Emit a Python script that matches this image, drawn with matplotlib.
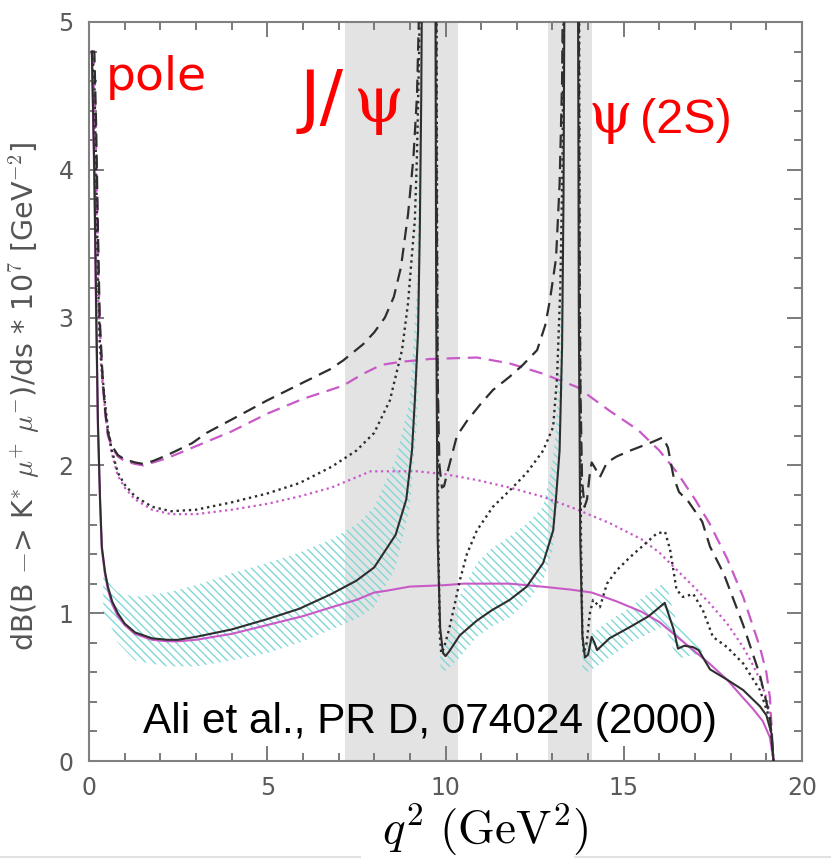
import matplotlib
matplotlib.use("Agg")
import matplotlib.pyplot as plt
from matplotlib.ticker import MultipleLocator
from matplotlib.lines import Line2D
import numpy as np

plt.rcParams['mathtext.fontset'] = 'cm'
plt.rcParams['hatch.linewidth'] = 1.0

# ---------------- data ----------------
# black solid : SM with resonances
bs_x = [0.08, 0.15, 0.2, 0.25, 0.31, 0.36, 0.45, 0.53, 0.65, 0.81, 1.0, 1.29, 1.77, 2.2, 2.5, 3.0, 4.0, 5.0, 5.9, 6.8, 7.5, 8.0, 8.6, 8.9, 9.06, 9.14, 9.23, 9.28, 9.32, 9.36,
        9.70, 9.72, 9.74, 9.78, 9.85, 9.93, 10.0, 10.1, 10.4, 10.88, 11.3, 11.8, 12.28, 12.74, 13.02, 13.1, 13.2, 13.27, 13.31, 13.35,
        13.70, 13.72, 13.74, 13.78, 13.84, 13.91, 14.0, 14.1, 14.18, 14.25, 14.6, 15.2, 15.7, 16.1, 16.15, 16.4, 16.52, 16.7, 16.95, 17.1, 17.42, 17.9, 18.35, 18.82, 19.0, 19.15, 19.2]
bs_y = [4.8, 4.0, 3.1, 2.3, 1.77, 1.45, 1.28, 1.18, 1.08, 1.0, 0.93, 0.87, 0.83, 0.82, 0.82, 0.84, 0.89, 0.96, 1.03, 1.13, 1.22, 1.31, 1.53, 1.77, 2.1, 2.44, 2.9, 3.6, 4.5, 6.0,
        6.0, 5.0, 3.0, 1.5, 0.9, 0.73, 0.71, 0.74, 0.85, 0.95, 1.02, 1.09, 1.18, 1.34, 1.56, 1.78, 2.1, 2.8, 3.8, 6.0,
        6.0, 5.0, 3.0, 1.5, 0.85, 0.70, 0.72, 0.84, 0.80, 0.75, 0.83, 0.91, 0.98, 1.06, 1.07, 0.89, 0.76, 0.78, 0.77, 0.75, 0.62, 0.55, 0.48, 0.37, 0.31, 0.18, 0.0]

# magenta solid : SM non-resonant
ms_x = [0.08, 0.15, 0.2, 0.25, 0.31, 0.36, 0.45, 0.53, 0.65, 0.81, 1.0, 1.29, 1.77, 2.2, 2.5, 3.0, 4.0, 5.0, 6.0, 6.8, 7.5, 8.0, 8.3, 9.0, 10.0, 10.5, 11.0, 11.8, 12.7, 13.5, 14.1, 14.8, 15.5, 16.0, 16.5, 17.0, 17.4, 17.9, 18.3, 18.6, 18.9, 19.1, 19.2]
ms_y = [4.8, 3.9, 3.0, 2.25, 1.75, 1.43, 1.26, 1.16, 1.06, 0.98, 0.92, 0.86, 0.82, 0.81, 0.81, 0.82, 0.86, 0.92, 0.98, 1.04, 1.09, 1.14, 1.15, 1.18, 1.19, 1.20, 1.20, 1.20, 1.18, 1.16, 1.14, 1.08, 1.01, 0.94, 0.84, 0.74, 0.66, 0.55, 0.44, 0.36, 0.27, 0.16, 0.0]

# black dotted : with resonances
bd_x = [0.08, 0.15, 0.2, 0.25, 0.3, 0.38, 0.45, 0.53, 0.64, 0.81, 1.0, 1.29, 1.77, 2.3, 3.0, 4.0, 5.0, 5.9, 6.8, 7.5, 8.0, 8.44, 8.78, 8.95, 9.05, 9.14, 9.2, 9.26, 9.32,
        9.72, 9.75, 9.77, 9.8, 9.84, 9.88, 9.95, 10.1, 10.25, 10.4, 10.6, 10.88, 11.33, 11.8, 12.28, 12.74, 13.02, 13.13, 13.22, 13.28, 13.34,
        13.72, 13.75, 13.77, 13.8, 13.84, 13.88, 13.96, 14.05, 14.14, 14.33, 14.53, 14.8, 15.18, 15.6, 15.93, 16.16, 16.3, 16.48, 16.66, 16.95, 17.22, 17.5, 17.9, 18.35, 18.82, 19.1, 19.2]
bd_y = [4.8, 4.6, 4.0, 3.3, 2.85, 2.6, 2.42, 2.25, 2.10, 1.95, 1.87, 1.79, 1.72, 1.69, 1.70, 1.75, 1.81, 1.88, 1.99, 2.10, 2.22, 2.44, 2.78, 3.1, 3.4, 3.66, 4.1, 4.8, 6.0,
        6.0, 5.0, 3.0, 1.5, 0.85, 0.73, 0.76, 0.89, 1.05, 1.22, 1.40, 1.56, 1.72, 1.83, 1.95, 2.10, 2.26, 2.6, 3.2, 4.0, 6.0,
        6.0, 5.0, 3.0, 1.5, 0.85, 0.73, 0.80, 1.0, 1.09, 1.04, 1.20, 1.29, 1.38, 1.47, 1.54, 1.55, 1.43, 1.16, 1.11, 1.13, 1.02, 0.84, 0.77, 0.66, 0.48, 0.28, 0.0]

# magenta dotted : non-resonant
md_x = [0.08, 0.15, 0.2, 0.25, 0.3, 0.38, 0.45, 0.53, 0.64, 0.81, 1.0, 1.29, 1.77, 2.3, 3.0, 4.0, 5.0, 5.9, 6.8, 7.5, 7.9, 8.5, 9.2, 10.0, 10.9, 11.8, 12.7, 13.6, 14.6, 15.5, 16.0, 16.5, 17.0, 17.4, 17.9, 18.35, 18.6, 18.82, 19.0, 19.1, 19.2]
md_y = [4.8, 4.5, 3.8, 3.2, 2.8, 2.55, 2.38, 2.22, 2.08, 1.93, 1.85, 1.77, 1.70, 1.67, 1.67, 1.70, 1.74, 1.79, 1.85, 1.92, 1.96, 1.96, 1.96, 1.94, 1.90, 1.85, 1.79, 1.71, 1.61, 1.50, 1.41, 1.29, 1.17, 1.07, 0.93, 0.77, 0.66, 0.55, 0.43, 0.32, 0.0]

# black dashed : with resonances
bk_x = [0.08, 0.15, 0.2, 0.25, 0.3, 0.38, 0.45, 0.53, 0.65, 0.81, 1.0, 1.29, 1.52, 1.8, 2.2, 2.89, 3.3, 4.0, 5.0, 6.0, 6.76, 7.13, 7.69, 8.0, 8.3, 8.55, 8.75, 8.95, 9.1, 9.2, 9.25, 9.3,
        9.73, 9.75, 9.78, 9.83, 9.9, 9.96, 10.05, 10.32, 10.6, 11.0, 11.33, 11.8, 12.17, 12.57, 12.8, 12.93, 13.1, 13.2, 13.27, 13.32,
        13.73, 13.75, 13.78, 13.83, 13.9, 13.97, 14.05, 14.1, 14.2, 14.33, 14.53, 14.8, 15.18, 15.5, 15.82, 16.1, 16.24, 16.4, 16.55, 16.8, 17.2, 17.42, 17.8, 18.35, 18.82, 19.1, 19.2]
bk_y = [4.8, 4.8, 4.3, 3.6, 3.0, 2.6, 2.38, 2.22, 2.13, 2.07, 2.04, 2.02, 2.01, 2.03, 2.07, 2.15, 2.22, 2.31, 2.44, 2.56, 2.65, 2.71, 2.82, 2.90, 3.0, 3.14, 3.34, 3.7, 4.08, 4.5, 5.0, 6.0,
        6.0, 4.0, 2.6, 2.0, 1.85, 1.86, 1.95, 2.2, 2.3, 2.42, 2.51, 2.60, 2.68, 2.78, 2.95, 3.12, 3.4, 3.9, 4.6, 6.0,
        6.0, 4.0, 2.6, 1.9, 1.72, 1.77, 1.95, 2.02, 1.98, 1.92, 2.02, 2.06, 2.10, 2.13, 2.16, 2.19, 2.12, 1.92, 1.82, 1.76, 1.62, 1.45, 1.27, 0.92, 0.58, 0.30, 0.0]

# magenta dashed : non-resonant
mk_x = [0.08, 0.15, 0.2, 0.25, 0.3, 0.38, 0.45, 0.53, 0.65, 0.81, 1.0, 1.29, 1.52, 1.8, 2.2, 2.9, 4.0, 5.0, 6.0, 6.76, 7.13, 7.69, 8.2, 8.72, 9.57, 10.88, 11.8, 12.74, 13.69, 14.6, 15.4, 16.0, 16.5, 17.0, 17.4, 17.9, 18.35, 18.82, 19.0, 19.1, 19.2]
mk_y = [4.8, 4.7, 4.1, 3.5, 2.95, 2.58, 2.36, 2.2, 2.12, 2.06, 2.03, 2.01, 2.0, 2.02, 2.05, 2.12, 2.23, 2.35, 2.45, 2.51, 2.54, 2.62, 2.68, 2.70, 2.72, 2.73, 2.69, 2.62, 2.53, 2.37, 2.24, 2.10, 1.95, 1.77, 1.61, 1.37, 1.11, 0.77, 0.60, 0.43, 0.0]

# cyan hatched uncertainty band (three pieces)
b1_x = [0.4, 0.5, 0.64, 0.81, 1.29, 2.2, 3.0, 4.0, 5.0, 5.9, 6.8, 7.5, 8.0, 8.6, 9.0, 9.2, 9.3]
b1_lo = [1.0, 0.96, 0.9, 0.8, 0.68, 0.64, 0.64, 0.68, 0.73, 0.80, 0.89, 0.96, 1.04, 1.31, 1.72, 2.3, 3.5]
b1_hi = [1.31, 1.25, 1.18, 1.14, 1.11, 1.14, 1.19, 1.27, 1.34, 1.41, 1.50, 1.60, 1.72, 2.04, 2.44, 3.2, 5.0]
b2_x = [9.85, 9.93, 10.1, 10.4, 10.88, 11.3, 11.8, 12.3, 12.74, 13.0, 13.1, 13.2, 13.3]
b2_lo = [0.65, 0.60, 0.63, 0.70, 0.84, 0.91, 0.97, 1.08, 1.22, 1.42, 1.65, 2.0, 2.6]
b2_hi = [0.75, 0.78, 0.84, 1.12, 1.34, 1.44, 1.52, 1.61, 1.72, 2.02, 2.24, 2.8, 4.0]
b3_x = [13.84, 13.95, 14.1, 14.25, 14.6, 15.18, 15.6, 16.1, 16.2, 16.35, 16.5, 16.7, 16.95, 17.1, 17.2]
b3_lo = [0.62, 0.60, 0.62, 0.64, 0.70, 0.80, 0.85, 0.91, 0.88, 0.78, 0.70, 0.70, 0.72, 0.72, 0.74]
b3_hi = [0.78, 0.80, 0.86, 0.89, 0.95, 1.04, 1.12, 1.20, 1.20, 1.05, 0.93, 0.88, 0.84, 0.80, 0.76]

# shaded resonance windows
veto_lo = [7.18, 12.87]
veto_hi = [10.35, 14.12]

x_ticks = [0, 5, 10, 15, 20]
y_ticks = [0, 1, 2, 3, 4, 5]

# ---------------- figure ----------------
W, H = 831, 863
fig = plt.figure(figsize=(W / 100, H / 100), dpi=100)
ax = fig.add_axes([89 / W, 1 - 761 / H, (802 - 89) / W, (761 - 22) / H])

BLK = '#2e2e2e'
MAG = '#c85ac8'
CY = '#80d8d8'

for a, b in zip(veto_lo, veto_hi):
    ax.axvspan(a, b, color='#e3e3e3', lw=0, zorder=0)

for bx, lo, hi in [(b1_x, b1_lo, b1_hi), (b2_x, b2_lo, b2_hi), (b3_x, b3_lo, b3_hi)]:
    ax.fill_between(bx, lo, hi, facecolor='none', edgecolor=CY, hatch='\\\\\\\\', lw=0, zorder=1)

ax.plot(mk_x, mk_y, color=MAG, lw=1.6, ls=(0, (6, 3.5)), zorder=2)
ax.plot(md_x, md_y, color=MAG, lw=1.6, ls=(0, (1, 1.6)), zorder=2)
ax.plot(ms_x, ms_y, color=MAG, lw=1.5, ls='-', zorder=2)
ax.plot(bk_x, bk_y, color=BLK, lw=1.6, ls=(0, (6, 3.5)), zorder=3)
ax.plot(bd_x, bd_y, color=BLK, lw=1.7, ls=(0, (1, 1.6)), zorder=3)
ax.plot(bs_x, bs_y, color=BLK, lw=1.5, ls='-', zorder=3)

ax.set_xlim(0, 20)
ax.set_ylim(0, 5)
ax.set_xticks(x_ticks)
ax.set_yticks(y_ticks)
ax.xaxis.set_minor_locator(MultipleLocator(1))
ax.yaxis.set_minor_locator(MultipleLocator(0.2))
ax.tick_params(which='both', direction='in', top=True, right=True, color='#707070', width=1.3)
ax.tick_params(which='major', length=11, labelsize=17, labelcolor='#5a5a5a', pad=11)
ax.tick_params(which='minor', length=6)
for s in ax.spines.values():
    s.set_color('#808080')
    s.set_linewidth(1.5)

ax.set_xticklabels([str(v) for v in x_ticks])
ax.set_yticklabels([str(v) for v in y_ticks])

# axis labels
fig.text(25 / W, 1 - 397 / H,
         r'dB(B $-$> K$^{*}$ $\mu^{+}$ $\mu^{-}$)/ds * 10$^{7}$ [GeV$^{-2}$]',
         rotation=90, ha='center', va='center', fontsize=20.5, color='#555555',
         family='DejaVu Sans')
fig.text(485 / W, 1 - 830 / H, r'$q^2\ (\mathrm{GeV}^2)$', ha='center', va='center',
         fontsize=34, color='black')

# annotations
fig.text(106 / W, 1 - 78 / H, 'pole', color='red', fontsize=34, ha='left', va='center',
         family='DejaVu Sans')
fig.text(300 / W, 1 - 101 / H, 'J/', color='red', fontsize=50, ha='left', va='center',
         family='DejaVu Sans')
fig.text(354 / W, 1 - 104 / H, 'ψ', color='red', fontsize=46, ha='left', va='center',
         family='DejaVu Serif')
fig.text(588 / W, 1 - 117 / H, 'ψ', color='red', fontsize=40, ha='left', va='center',
         family='DejaVu Serif')
fig.text(640 / W, 1 - 120 / H, '(2S)', color='red', fontsize=35, ha='left', va='center',
         family='Liberation Sans')
fig.text(430 / W, 1 - 722 / H, 'Ali et al., PR D, 074024 (2000)', color='black', fontsize=30.5,
         ha='center', va='center', family='Liberation Sans')

# slide artefact lines at the bottom
fig.add_artist(Line2D([0, 360 / W], [1 - 857 / H] * 2, color='#e2e2e2', lw=1.5, transform=fig.transFigure))
fig.add_artist(Line2D([575 / W, 1], [1 - 857 / H] * 2, color='#e2e2e2', lw=1.5, transform=fig.transFigure))

fig.savefig('out.png', dpi=100)
